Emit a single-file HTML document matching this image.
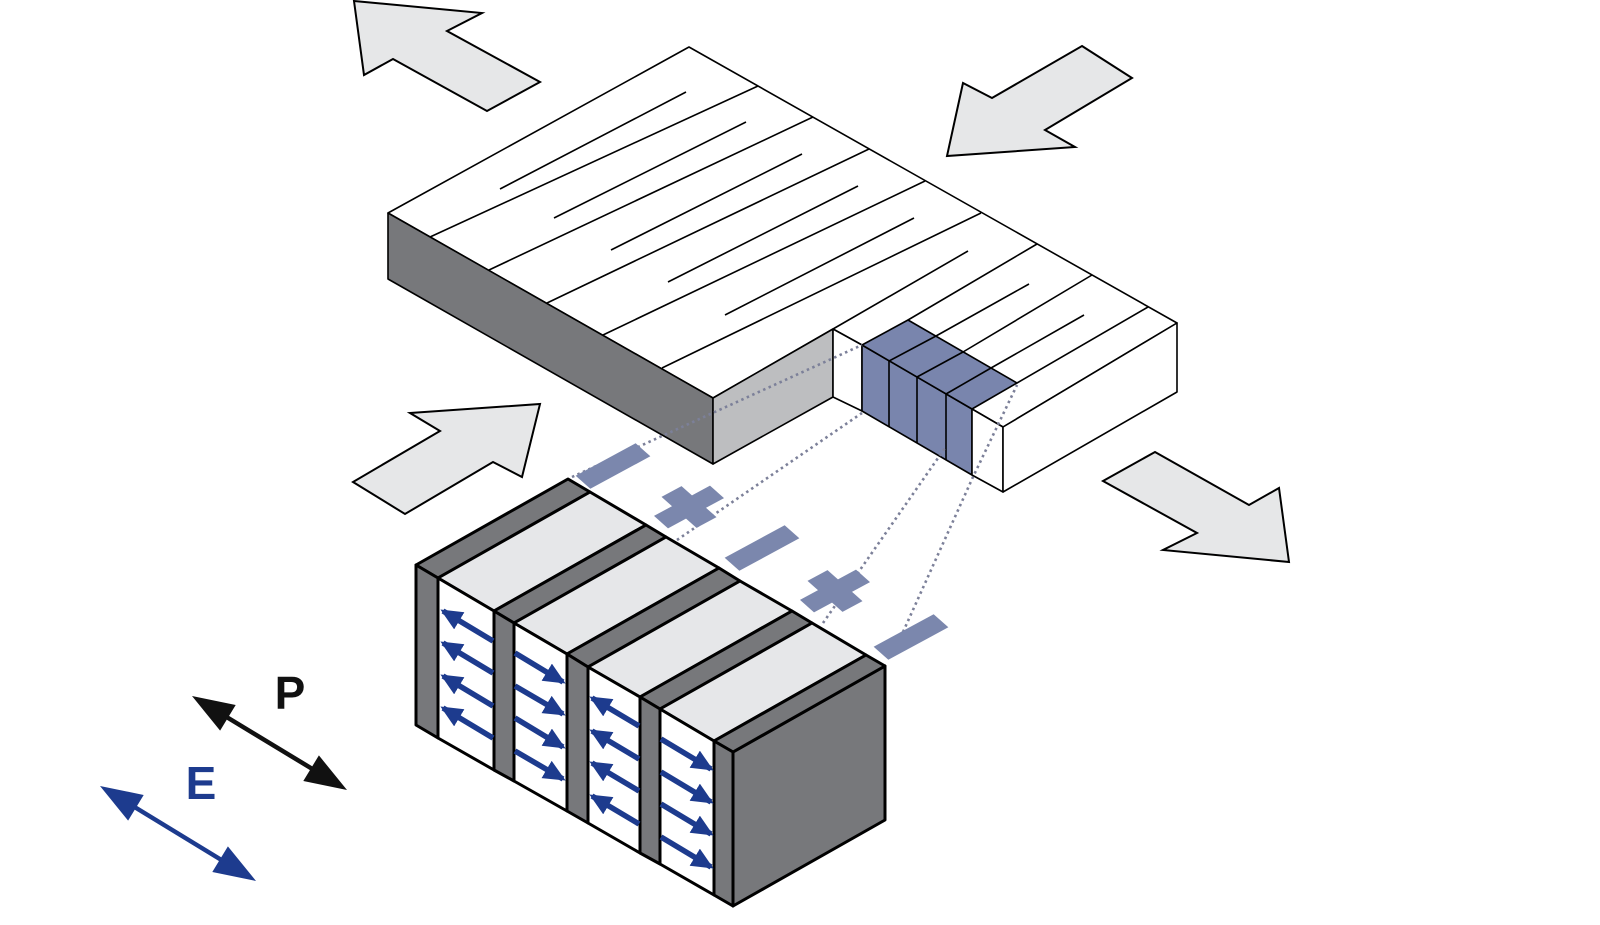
<!DOCTYPE html>
<html><head><meta charset="utf-8"><style>html,body{margin:0;padding:0;background:#fff}svg{display:block}</style></head>
<body>
<svg width="1600" height="925" viewBox="0 0 1600 925" xmlns="http://www.w3.org/2000/svg">
<defs>
<marker id="bh" markerUnits="userSpaceOnUse" markerWidth="24" markerHeight="22" refX="19" refY="10" orient="auto"><path d="M0,0 L22,10 L0,20 z" fill="#1d3b8e"/></marker>
</defs>
<g fill="#e6e7e8" stroke="#000" stroke-width="2" stroke-linejoin="miter">
<polygon points="354,1 482,13 447,31 540,82 487,111 393,59 364,75"/>
<polygon points="1082,46 1132,78 1045,130 1075,147 947,156 963,83 992,98"/>
<polygon points="410,413 540,404 522,477 493,462 405,514 353,482 440,431"/>
<polygon points="1155,452 1249,505 1279,488 1289,562 1163,550 1197,533 1103,481"/>
</g>
<g stroke="#000" stroke-width="1.6" stroke-linejoin="round">
<polygon points="388,213 689,47 1177,323 1003,427 972,409 862,345 833,329 713,398" fill="#fff"/>
<polygon points="388,213 713,398 713,464 388,279" fill="#77787b"/>
<polygon points="713,398 833,329 833,397 713,464" fill="#bdbec0"/>
<polygon points="833,329 862,345 862,411 833,397" fill="#fff"/>
<polygon points="862,345 972,409 972,475 862,411" fill="#7985ad"/>
<polygon points="862,345 908,320 1017,383 972,409" fill="#7985ad"/>
<polygon points="972,409 1003,427 1003,492 972,475" fill="#fff"/>
<polygon points="1003,427 1177,323 1177,392 1003,492" fill="#fff"/>
</g>
<g stroke="#000" stroke-width="1.6" fill="none" stroke-linecap="butt">
<line x1="430" y1="237" x2="758" y2="86"/>
<line x1="489" y1="270" x2="813" y2="117"/>
<line x1="547" y1="303" x2="869" y2="149"/>
<line x1="603" y1="335" x2="925" y2="181"/>
<line x1="662" y1="368" x2="981" y2="213"/>
<line x1="908" y1="320" x2="1037" y2="244"/>
<line x1="963" y1="352" x2="1092" y2="275"/>
<line x1="1017" y1="383" x2="1148" y2="307"/>
<line x1="500" y1="189" x2="686" y2="92"/>
<line x1="554" y1="218" x2="746" y2="122"/>
<line x1="611" y1="250" x2="802" y2="154"/>
<line x1="668" y1="282" x2="858" y2="186"/>
<line x1="725" y1="315" x2="914" y2="218"/>
<line x1="833" y1="329" x2="968" y2="251"/>
<line x1="936" y1="336" x2="1029" y2="284"/>
<line x1="991" y1="368" x2="1084" y2="315"/>
<line x1="889" y1="361" x2="889" y2="427"/>
<line x1="917" y1="377" x2="917" y2="443"/>
<line x1="946" y1="394" x2="946" y2="460"/>
<line x1="889" y1="361" x2="936" y2="336"/>
<line x1="917" y1="377" x2="963" y2="352"/>
<line x1="946" y1="394" x2="991" y2="368"/>
</g>
<g stroke="#7c8099" stroke-width="2.6" stroke-dasharray="2.5 3.5" fill="none">
<line x1="572" y1="477" x2="862" y2="345"/>
<line x1="677" y1="540" x2="862" y2="413"/>
<line x1="823" y1="623" x2="945" y2="448"/>
<polyline points="903,632 973,477 1017,385"/>
</g>
<g fill="#7b87ad">
<rect x="-30" y="-10.5" width="60" height="21" transform="matrix(1,-0.54,0.7,0.62,613,466)"/>
<rect x="-30" y="-10.5" width="60" height="21" transform="matrix(1,-0.54,0.7,0.62,762,548)"/>
<rect x="-30" y="-10.5" width="60" height="21" transform="matrix(1,-0.54,0.7,0.62,911,637)"/>
<g transform="matrix(1,-0.54,0.7,0.62,689,507)"><rect x="-28" y="-10" width="56" height="20"/><rect x="-10" y="-25" width="20" height="50"/></g>
<g transform="matrix(1,-0.54,0.7,0.62,835,591)"><rect x="-28" y="-10" width="56" height="20"/><rect x="-10" y="-25" width="20" height="50"/></g>
</g>
<g stroke="#000" stroke-width="3" stroke-linejoin="round">
<polygon points="733,752 885,666 885,820 733,906" fill="#77787b"/>
<polygon points="416,565 438,578 590,492 568,479" fill="#77787b"/>
<polygon points="438,578 494,611 646,525 590,492" fill="#e6e7e9"/>
<polygon points="494,611 514,623 666,537 646,525" fill="#77787b"/>
<polygon points="514,623 567,654 719,568 666,537" fill="#e6e7e9"/>
<polygon points="567,654 588,667 740,581 719,568" fill="#77787b"/>
<polygon points="588,667 640,697 792,611 740,581" fill="#e6e7e9"/>
<polygon points="640,697 660,709 812,623 792,611" fill="#77787b"/>
<polygon points="660,709 714,741 866,655 812,623" fill="#e6e7e9"/>
<polygon points="714,741 733,752 885,666 866,655" fill="#77787b"/>
<polygon points="416,565 438,578 438,738 416,725" fill="#77787b"/>
<polygon points="438,578 494,611 494,770 438,738" fill="#fff"/>
<polygon points="494,611 514,623 514,781 494,770" fill="#77787b"/>
<polygon points="514,623 567,654 567,811 514,781" fill="#fff"/>
<polygon points="567,654 588,667 588,823 567,811" fill="#77787b"/>
<polygon points="588,667 640,697 640,853 588,823" fill="#fff"/>
<polygon points="640,697 660,709 660,864 640,853" fill="#77787b"/>
<polygon points="660,709 714,741 714,895 660,864" fill="#fff"/>
<polygon points="714,741 733,752 733,906 714,895" fill="#77787b"/>
</g>
<g stroke="#1d3b8e" stroke-width="5.5" marker-end="url(#bh)">
<line x1="493" y1="641" x2="443" y2="611"/>
<line x1="493" y1="673" x2="443" y2="643"/>
<line x1="493" y1="706" x2="443" y2="676"/>
<line x1="493" y1="738" x2="443" y2="708"/>
<line x1="515" y1="653" x2="563" y2="682"/>
<line x1="515" y1="686" x2="563" y2="714"/>
<line x1="515" y1="718" x2="563" y2="747"/>
<line x1="515" y1="751" x2="563" y2="779"/>
<line x1="639" y1="726" x2="592" y2="698"/>
<line x1="639" y1="759" x2="592" y2="731"/>
<line x1="639" y1="791" x2="592" y2="763"/>
<line x1="639" y1="824" x2="592" y2="796"/>
<line x1="661" y1="739" x2="711" y2="769"/>
<line x1="661" y1="772" x2="711" y2="802"/>
<line x1="661" y1="804" x2="711" y2="834"/>
<line x1="661" y1="837" x2="711" y2="867"/>
</g>
<line x1="220" y1="713" x2="319" y2="773" stroke="#111" stroke-width="4.5"/>
<polygon points="192,696 220.1,730.6 235.7,705" fill="#111"/>
<polygon points="347,790 303.3,781 318.9,755.4" fill="#111"/>
<line x1="128" y1="803" x2="228" y2="864" stroke="#1d3b8e" stroke-width="4.5"/>
<polygon points="100,786 128.1,820.6 143.7,795" fill="#1d3b8e"/>
<polygon points="256,881 212.3,872 227.9,846.4" fill="#1d3b8e"/>
<text x="290" y="709" font-family="Liberation Sans, sans-serif" font-weight="bold" font-size="46" fill="#111" text-anchor="middle">P</text>
<text x="201" y="799" font-family="Liberation Sans, sans-serif" font-weight="bold" font-size="46" fill="#1d3b8e" text-anchor="middle">E</text>
</svg>
</body></html>
